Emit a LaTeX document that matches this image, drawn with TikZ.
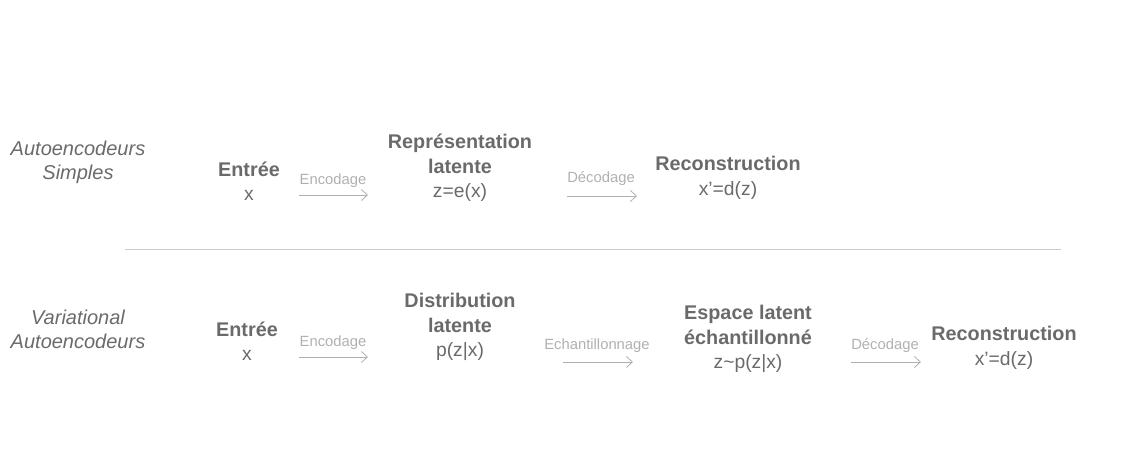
\documentclass[tikz,border=0pt]{standalone}
\usepackage{fontspec}
\setmainfont{Liberation Sans}
\usetikzlibrary{arrows.meta}
\definecolor{txt}{HTML}{6A6A6A}
\definecolor{lbl}{HTML}{B0B0B0}
\definecolor{sep}{HTML}{CCCCCC}
\tikzset{
  main/.style={align=center, text=txt, inner sep=0pt, font=\fontsize{19.3}{24.5}\selectfont},
  side/.style={align=center, text=txt, inner sep=0pt, font=\fontsize{20}{24}\selectfont\itshape},
  lab/.style={text=lbl, inner sep=0pt, font=\fontsize{14.8}{17}\selectfont},
  flow/.style={draw=lbl, line width=0.8pt, -{Straight Barb[length=6pt,width=11pt,line width=0.8pt]}}
}
\newcommand{\bt}[1]{{\fontsize{19.8}{24.5}\selectfont\bfseries #1}}
\begin{document}
\begin{tikzpicture}[x=1pt,y=-1pt]
\useasboundingbox (0,0) rectangle (1123,469);
% top row
\node[side] (s1) at (78,162) {Autoencodeurs\\Simples};
\node[main] (a1) at (249,181) {\bt{Entrée}\\x};
\node[lab] (l1) at (333,181) {Encodage};
\coordinate (a1s) at (299,195); \coordinate (a1e) at (368,195);
\draw[flow] (a1s) -- (a1e);
\node[main] (b1) at (460,168) {\bt{Représentation}\\\bt{latente}\\z=e(x)};
\node[lab] (l2) at (601,179) {Décodage};
\coordinate (b1s) at (567,196); \coordinate (b1e) at (637,196);
\draw[flow] (b1s) -- (b1e);
\node[main] (c1) at (728,178) {\bt{Reconstruction}\\x’=d(z)};
% separator
\coordinate (sepL) at (125,249); \coordinate (sepR) at (1061,249);
\draw[sep, line width=0.8pt] (sepL) -- (sepR);
% bottom row
\node[side] (s2) at (78,329) {Variational\\Autoencodeurs};
\node[main] (a2) at (247,341) {\bt{Entrée}\\x};
\node[lab] (l3) at (333,343) {Encodage};
\coordinate (a2s) at (299,357); \coordinate (a2e) at (368,357);
\draw[flow] (a2s) -- (a2e);
\node[main] (b2) at (460,327) {\bt{Distribution}\\\bt{latente}\\p(z|x)};
\node[lab] (l4) at (597,346) {Echantillonnage};
\coordinate (b2s) at (563,362); \coordinate (b2e) at (633,362);
\draw[flow] (b2s) -- (b2e);
\node[main] (c2) at (748,339) {\bt{Espace latent}\\\bt{échantillonné}\\z\char`~p(z|x)};
\node[lab] (l5) at (885,346) {Décodage};
\coordinate (c2s) at (851,362); \coordinate (c2e) at (921,362);
\draw[flow] (c2s) -- (c2e);
\node[main] (d2) at (1004,348) {\bt{Reconstruction}\\x’=d(z)};
\end{tikzpicture}
\end{document}
